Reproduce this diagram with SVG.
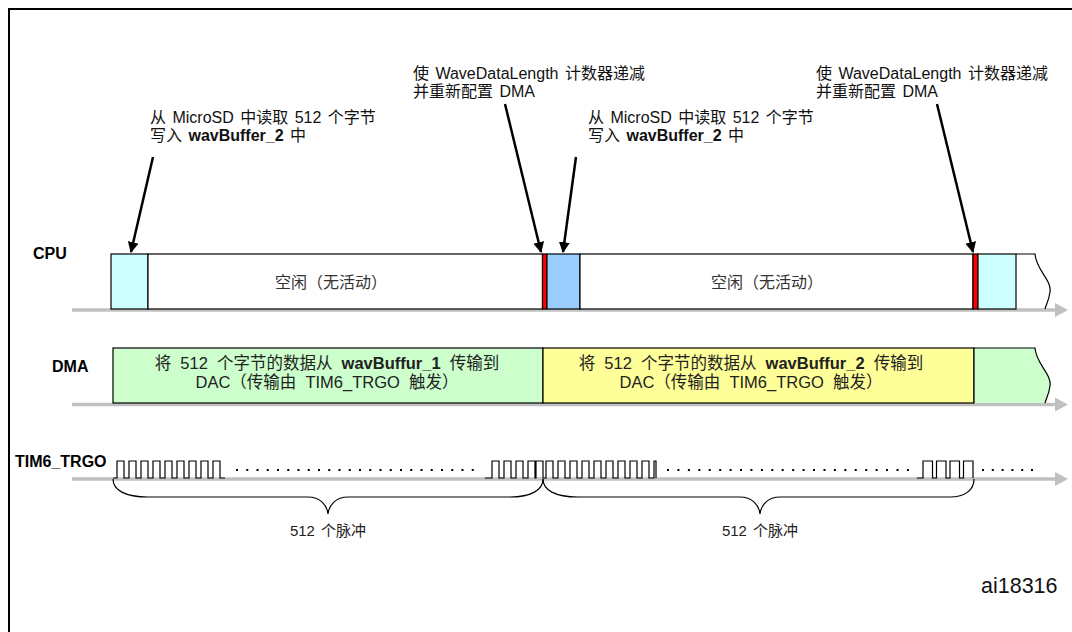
<svg xmlns="http://www.w3.org/2000/svg" width="1072" height="632" viewBox="0 0 1072 632">
<defs>
<style>
.t{font-family:"Liberation Sans","Noto Sans CJK SC",sans-serif;font-size:16px;word-spacing:2px;fill:#111}
.bt{font-family:"Liberation Sans","Noto Sans CJK SC",sans-serif;font-size:16.5px;word-spacing:4.5px;fill:#222}
.ct{font-family:"Liberation Sans","Noto Sans CJK SC",sans-serif;font-size:16px;fill:#333}
.pl{font-family:"Liberation Sans","Noto Sans CJK SC",sans-serif;font-size:15px;word-spacing:2px;fill:#222}
.lb{font-family:"Liberation Sans","Noto Sans CJK SC",sans-serif;font-size:16px;font-weight:bold;fill:#000}
.b{font-weight:bold}
.box{stroke:#000;stroke-width:1.2}
.axis{stroke:#c0c0c0;stroke-width:3.5;fill:none}
.ptr{stroke:#000;stroke-width:2.5;fill:none}
.wave{stroke:#000;stroke-width:1.2;fill:none}
.dot{fill:#000}
</style>
<marker id="ah" viewBox="0 0 10 10" refX="9" refY="5" markerWidth="4.4" markerHeight="4.4" orient="auto" markerUnits="strokeWidth">
<path d="M0,0 L10,5 L0,10 z" fill="#000"/>
</marker>
</defs>
<rect x="0" y="0" width="1072" height="632" fill="#fff"/>
<path d="M9,632 V9 H1072" fill="none" stroke="#000" stroke-width="2"/>

<g id="axes">
<line class="axis" x1="72" y1="310" x2="1057" y2="310"/>
<path d="M1055,303 L1068,310 L1055,317 z" fill="#c0c0c0"/>
<line class="axis" x1="72" y1="404.5" x2="1057" y2="404.5"/>
<path d="M1055,397.5 L1068,404.5 L1055,411.5 z" fill="#c0c0c0"/>
<line class="axis" x1="72" y1="479" x2="1057" y2="479"/>
<path d="M1055,472 L1068,479 L1055,486 z" fill="#c0c0c0"/>
</g>

<g id="cpu-row">
<text class="lb" x="33" y="259">CPU</text>
<rect class="box" x="111" y="254" width="37" height="55" fill="#ccffff"/>
<rect class="box" x="148" y="254" width="394.5" height="55" fill="#fff"/>
<text class="ct" x="331" y="288" text-anchor="middle">空闲（无活动）</text>
<rect class="box" x="542.5" y="254" width="4.5" height="55" fill="#ff0000"/>
<rect class="box" x="547" y="254" width="33" height="55" fill="#99ccff"/>
<rect class="box" x="580" y="254" width="393" height="55" fill="#fff"/>
<text class="ct" x="767" y="288" text-anchor="middle">空闲（无活动）</text>
<rect class="box" x="973" y="254" width="5" height="55" fill="#ff0000"/>
<rect class="box" x="978" y="254" width="38" height="55" fill="#ccffff"/>
<path class="box" d="M1016,254 H1035 C1036,270 1052,280 1050,292 C1049,300 1046,305 1045,309" fill="none"/>
</g>

<g id="dma-row">
<text class="lb" x="52" y="372">DMA</text>
<rect class="box" x="113" y="348" width="430" height="55" fill="#ccffcc"/>
<text class="bt" x="327" y="369" text-anchor="middle">将 512 个字节的数据从 <tspan class="b">wavBuffur_1</tspan> 传输到</text>
<text class="bt" x="327" y="388" text-anchor="middle">DAC（传输由 TIM6_TRGO 触发）</text>
<rect class="box" x="543" y="348" width="431" height="55" fill="#ffff99"/>
<text class="bt" x="751" y="369" text-anchor="middle">将 512 个字节的数据从 <tspan class="b">wavBuffur_2</tspan> 传输到</text>
<text class="bt" x="751" y="388" text-anchor="middle">DAC（传输由 TIM6_TRGO 触发）</text>
<path d="M974,403 V348 H1035 C1036,364 1052,374 1050,386 C1049,394 1046,399 1045,403 z" fill="#ccffcc"/>
<path class="box" d="M974,403 V348 H1035 C1036,364 1052,374 1050,386 C1049,394 1046,399 1045,403" fill="none"/>
</g>

<g id="tim6-row">
<text class="lb" x="15" y="467">TIM6_TRGO</text>
<path class="wave" d="M113,478 H117 V461 H124 V478 H129 V461 H136 V478 H141 V461 H148 V478 H153 V461 H160 V478 H165 V461 H172 V478 H177 V461 H184 V478 H189 V461 H196 V478 H201 V461 H208 V478 H213 V461 H220 V478 H225"/>
<g class="dot">
<rect x="236" y="469" width="2" height="2"/><rect x="246.25" y="469" width="2" height="2"/><rect x="256.5" y="469" width="2" height="2"/><rect x="266.75" y="469" width="2" height="2"/><rect x="277" y="469" width="2" height="2"/><rect x="287.25" y="469" width="2" height="2"/><rect x="297.5" y="469" width="2" height="2"/><rect x="307.75" y="469" width="2" height="2"/><rect x="318" y="469" width="2" height="2"/><rect x="328.25" y="469" width="2" height="2"/><rect x="338.5" y="469" width="2" height="2"/><rect x="348.75" y="469" width="2" height="2"/><rect x="359" y="469" width="2" height="2"/><rect x="369.25" y="469" width="2" height="2"/><rect x="379.5" y="469" width="2" height="2"/><rect x="389.75" y="469" width="2" height="2"/><rect x="400" y="469" width="2" height="2"/><rect x="410.25" y="469" width="2" height="2"/><rect x="420.5" y="469" width="2" height="2"/><rect x="430.75" y="469" width="2" height="2"/><rect x="441" y="469" width="2" height="2"/><rect x="451.25" y="469" width="2" height="2"/><rect x="461.5" y="469" width="2" height="2"/><rect x="471.75" y="469" width="2" height="2"/>
</g>
<path class="wave" d="M485,478 H492 V461 H499 V478 H504 V461 H511 V478 H516 V461 H523 V478 H528 V461 H535 V478 H536 V461 H543 V478 H546 V461 H553 V478 H558 V461 H565 V478 H570 V461 H577 V478 H582 V461 H589 V478 H594 V461 H601 V478 H606 V461 H613 V478 H618 V461 H625 V478 H630 V461 H637 V478 H642 V461 H649 V478 H654 V461 H656 V478"/>
<g class="dot">
<rect x="667" y="469" width="2" height="2"/><rect x="677.4" y="469" width="2" height="2"/><rect x="687.9" y="469" width="2" height="2"/><rect x="698.3" y="469" width="2" height="2"/><rect x="708.7" y="469" width="2" height="2"/><rect x="719.2" y="469" width="2" height="2"/><rect x="729.6" y="469" width="2" height="2"/><rect x="740" y="469" width="2" height="2"/><rect x="750.4" y="469" width="2" height="2"/><rect x="760.9" y="469" width="2" height="2"/><rect x="771.3" y="469" width="2" height="2"/><rect x="781.7" y="469" width="2" height="2"/><rect x="792.2" y="469" width="2" height="2"/><rect x="802.6" y="469" width="2" height="2"/><rect x="813" y="469" width="2" height="2"/><rect x="823.5" y="469" width="2" height="2"/><rect x="833.9" y="469" width="2" height="2"/><rect x="844.3" y="469" width="2" height="2"/><rect x="854.7" y="469" width="2" height="2"/><rect x="865.2" y="469" width="2" height="2"/><rect x="875.6" y="469" width="2" height="2"/><rect x="886" y="469" width="2" height="2"/><rect x="896.5" y="469" width="2" height="2"/><rect x="906.9" y="469" width="2" height="2"/>
</g>
<path class="wave" d="M917,478 H923 V461 H932.5 V478 H936.5 V461 H946 V478 H950 V461 H959.5 V478 H963.5 V461 H973 V478"/>
<g class="dot">
<rect x="982" y="469" width="2" height="2"/><rect x="991.8" y="469" width="2" height="2"/><rect x="1001.6" y="469" width="2" height="2"/><rect x="1011.4" y="469" width="2" height="2"/><rect x="1021.2" y="469" width="2" height="2"/><rect x="1031" y="469" width="2" height="2"/>
</g>
<path class="wave" d="M113,479 C113,490 125,497 148,497 H308 C320,497 327,505 328,514 C329,505 336,497 348,497 H510 C531,497 543,490 543,479"/>
<path class="wave" d="M543,479 C543,490 555,497 578,497 H740 C752,497 759,505 760,514 C761,505 768,497 780,497 H950 C965,497 974,490 974,479"/>
<text class="pl" x="328" y="536" text-anchor="middle">512 个脉冲</text>
<text class="pl" x="760" y="536" text-anchor="middle">512 个脉冲</text>
</g>

<g id="note-read-1">
<text class="t" x="150" y="123">从 MicroSD 中读取 512 个字节</text>
<text class="t" x="150" y="141">写入 <tspan class="b">wavBuffer_2</tspan> 中</text>
</g>
<g id="note-dec-1">
<text class="t" x="413" y="79">使 WaveDataLength 计数器递减</text>
<text class="t" x="413" y="97">并重新配置 DMA</text>
</g>
<g id="note-read-2">
<text class="t" x="588" y="123">从 MicroSD 中读取 512 个字节</text>
<text class="t" x="588" y="141">写入 <tspan class="b">wavBuffer_2</tspan> 中</text>
</g>
<g id="note-dec-2">
<text class="t" x="816" y="79">使 WaveDataLength 计数器递减</text>
<text class="t" x="816" y="97">并重新配置 DMA</text>
</g>

<g id="connectors">
<line class="ptr" x1="153" y1="157" x2="131" y2="252" marker-end="url(#ah)"/>
<line class="ptr" x1="505" y1="104" x2="541" y2="252" marker-end="url(#ah)"/>
<line class="ptr" x1="576" y1="157" x2="563" y2="252" marker-end="url(#ah)"/>
<line class="ptr" x1="937" y1="104" x2="973" y2="252" marker-end="url(#ah)"/>
</g>

<text class="t" x="981" y="593" style="font-size:21.5px;word-spacing:0">ai18316</text>
</svg>
